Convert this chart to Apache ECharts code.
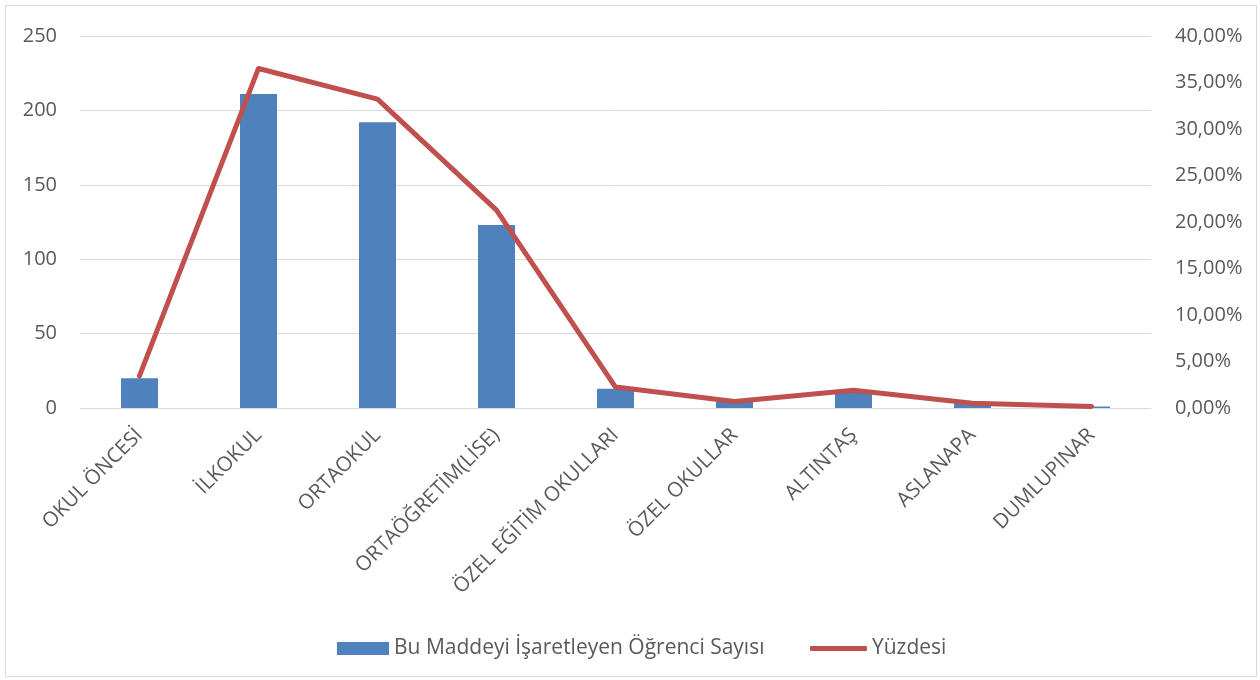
<!DOCTYPE html>
<html>
<head>
<meta charset="utf-8">
<script src="https://cdn.jsdelivr.net/npm/echarts@6/dist/echarts.min.js"></script>
<style>
  html, body { margin: 0; padding: 0; background: #fff; }
  #chart { width: 1260px; height: 680px; }
</style>
</head>
<body>
<div id="chart"></div>
<script>
const categories = [
  "OKUL ÖNCESİ", "İLKOKUL", "ORTAOKUL", "ORTAÖĞRETİM(LİSE)",
  "ÖZEL EĞİTİM OKULLARI", "ÖZEL OKULLAR", "ALTINTAŞ", "ASLANAPA", "DUMLUPINAR"
];
const ogrenciSayisi = [20, 211, 192, 123, 13, 4, 11, 3, 1];
const yuzdesi = [3.46, 36.51, 33.22, 21.28, 2.25, 0.69, 1.9, 0.52, 0.17];
const countTicks = [0, 50, 100, 150, 200, 250];
const percentTicks = [0, 5, 10, 15, 20, 25, 30, 35, 40];

const seriesNames = ["Bu Maddeyi İşaretleyen Öğrenci Sayısı", "Yüzdesi"];

const font = "'Open Sans', 'Noto Sans', sans-serif";
const textColor = "#595959";

const chart = echarts.init(document.getElementById("chart"));

const options = {
  animation: false,
  textStyle: { fontFamily: font },
  graphic: [
    {
      type: "rect",
      shape: { x: 5.5, y: 5.5, width: 1251, height: 671 },
      style: { fill: "none", stroke: "#d9d9d9", lineWidth: 1 },
      silent: true,
    },
  ],
  grid: {
    left: 80,
    right: 109,
    top: 36,
    bottom: 272,
    outerBoundsMode: "none",
  },
  legend: [
    {
      left: 332,
      top: 633,
      itemWidth: 52,
      itemHeight: 13,
      icon: "rect",
      data: [seriesNames[0]],
      textStyle: { color: textColor, fontSize: 21, fontFamily: font },
    },
    {
      left: 805,
      top: 633,
      itemWidth: 57,
      itemHeight: 5,
      icon: "roundRect",
      data: [seriesNames[1]],
      textStyle: { color: textColor, fontSize: 21, fontFamily: font },
    },
  ],
  xAxis: {
    type: "category",
    data: categories,
    boundaryGap: true,
    axisLine: { show: true, lineStyle: { color: "#d9d9d9", width: 1 } },
    axisTick: { show: false },
    axisLabel: {
      rotate: 45,
      margin: 24,
      interval: 0,
      color: textColor,
      fontSize: 20.5,
      fontFamily: font,
    },
  },
  yAxis: [
    {
      type: "value",
      min: countTicks[0],
      max: countTicks[countTicks.length - 1],
      interval: 50,
      axisLine: { show: false },
      axisTick: { show: false },
      splitLine: { show: true, lineStyle: { color: "#d9d9d9", width: 1 } },
      axisLabel: { margin: 23, color: textColor, fontSize: 20, fontFamily: font },
    },
    {
      type: "value",
      min: percentTicks[0],
      max: percentTicks[percentTicks.length - 1],
      interval: 5,
      axisLine: { show: false },
      axisTick: { show: false },
      splitLine: { show: false },
      axisLabel: {
        margin: 24,
        color: textColor,
        fontSize: 20,
        fontFamily: font,
        formatter: (v) => v.toFixed(2).replace(".", ",") + "%",
      },
    },
  ],
  series: [
    {
      name: seriesNames[0],
      type: "bar",
      yAxisIndex: 0,
      barWidth: 37,
      itemStyle: { color: "#4f81bd" },
      data: ogrenciSayisi,
    },
    {
      name: seriesNames[1],
      type: "line",
      yAxisIndex: 1,
      symbol: "none",
      showSymbol: false,
      lineStyle: { color: "#c0504d", width: 5, cap: "round", join: "round" },
      itemStyle: { color: "#c0504d" },
      data: yuzdesi,
    },
  ],
};

chart.setOption(options);
</script>
</body>
</html>
